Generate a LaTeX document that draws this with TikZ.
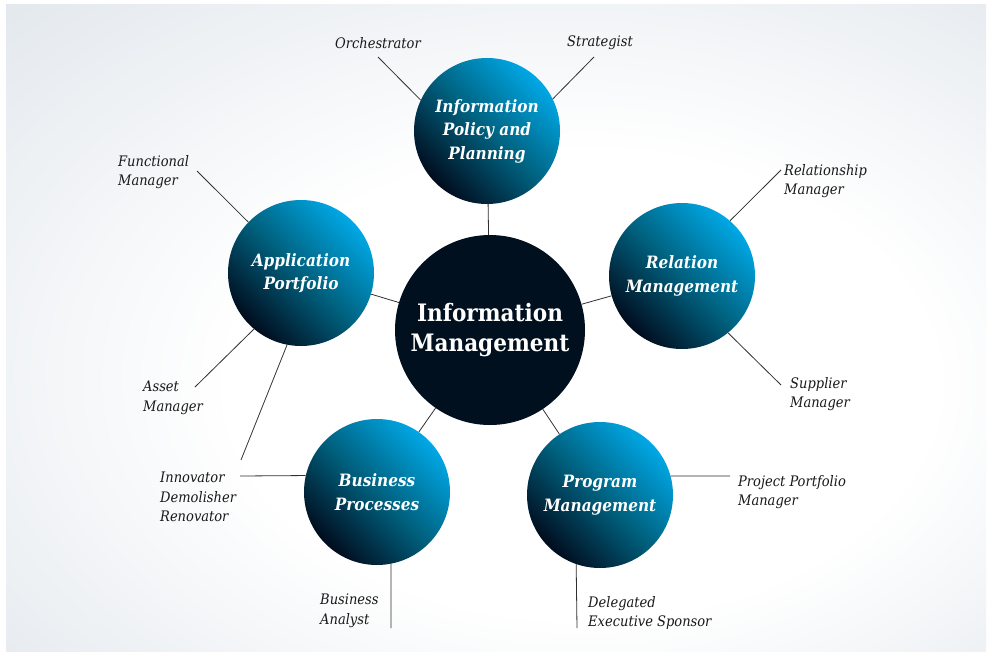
\documentclass[tikz,border=0pt]{standalone}
\usepackage{fontspec}
\setmainfont{DejaVu Serif Condensed}

\definecolor{bgblue}{HTML}{BCC8D3}
\definecolor{bgmid}{HTML}{DFE5EB}
\definecolor{ballDark}{HTML}{010D1E}
\definecolor{ballMid}{HTML}{00617F}
\definecolor{ballLight}{HTML}{00A8E6}
\definecolor{coreDark}{HTML}{00101F}
\definecolor{lineGray}{HTML}{303030}

\pgfdeclareradialshading{vignette}{\pgfpoint{6bp}{-6bp}}{color(0bp)=(white); color(18bp)=(white); color(42bp)=(bgmid); color(68bp)=(bgblue)}

\begin{document}
\begin{tikzpicture}[x=1pt,y=-1pt,
	ball/.style={circle, minimum size=146pt, inner sep=0pt, align=center, text=white,
		top color=ballLight, bottom color=ballDark, middle color=ballMid, shading angle=-45,
		font=\fontsize{17}{23.5}\selectfont\bfseries\itshape},
	lbl/.style={anchor=west, align=left, inner sep=0pt, text=black!90, font=\fontsize{14.5}{19.5}\selectfont\itshape},
	con/.style={draw=lineGray, line width=0.8pt}]

	% Bakgrunn
	\useasboundingbox (0,0) rectangle (988,654);
	\fill [white] (0,0) rectangle (988,654);
	\shade [shading=vignette] (6,4) rectangle (986,651);

	% Sirkler
	\node [circle, fill=coreDark, minimum size=190pt, inner sep=0pt, align=center, text=white,
		font=\fontsize{24}{30}\selectfont\bfseries] (IM) at (490,330) {Information\\Management};
	\node [ball] (IPP) at (487,131) {Information\\Policy and\\Planning};
	\node [ball] (AP) at (301,273) {Application\\Portfolio};
	\node [ball] (RM) at (682,276) {Relation\\Management};
	\node [ball] (BP) at (377,492) {Business\\Processes};
	\node [ball] (PM) at (600,495) {Program\\Management};

	\draw [con] (IPP) -- (IM);
	\draw [con] (AP) -- (IM);
	\draw [con] (RM) -- (IM);
	\draw [con] (BP) -- (IM);
	\draw [con] (PM) -- (IM);

	% Roller
	\node [lbl, anchor=center] (orch) at (378,43) {Orchestrator};
	\node [lbl, anchor=center] (strat) at (600,43) {Strategist};
	\node [lbl] (func) at (118,172) {Functional\\Manager};
	\node [lbl] (asset) at (143,398) {Asset\\Manager};
	\node [lbl] (innov) at (160,497) {Innovator\\Demolisher\\Renovator};
	\node [lbl] (relm) at (784,181) {Relationship\\Manager};
	\node [lbl] (supp) at (790,394) {Supplier\\Manager};
	\node [lbl] (ppm) at (738,492) {Project Portfolio\\Manager};
	\node [lbl] (ba) at (320,611) {Business\\Analyst};
	\node [lbl] (des) at (588,613) {Delegated\\Executive Sponsor};

	\coordinate (orchEnd) at (378,57);
	\coordinate (stratEnd) at (594,57);
	\coordinate (funcEnd) at (197,171);
	\coordinate (assetEnd) at (195,387);
	\coordinate (innovEnd) at (241,460);
	\coordinate (innovEndB) at (240,476);
	\coordinate (relmEnd) at (781,170);
	\coordinate (suppEnd) at (781,385);
	\coordinate (ppmEnd) at (730,476);
	\coordinate (baEnd) at (391,628);
	\coordinate (desEnd) at (577,628);

	\draw [con] (IPP.155) -- (orchEnd);
	\draw [con] (IPP.26) -- (stratEnd);
	\draw [con] (AP.136) -- (funcEnd);
	\draw [con] (AP.230) -- (assetEnd);
	\draw [con] (AP.259) -- (innovEnd);
	\draw [con] (BP.167) -- (innovEndB);
	\draw [con] (RM.49) -- (relmEnd);
	\draw [con] (RM.309) -- (suppEnd);
	\draw [con] (PM.15) -- (ppmEnd);
	\draw [con] (BP.281) -- (baEnd);
	\draw [con] (PM.251.6) -- (desEnd);

\end{tikzpicture}
\end{document}
